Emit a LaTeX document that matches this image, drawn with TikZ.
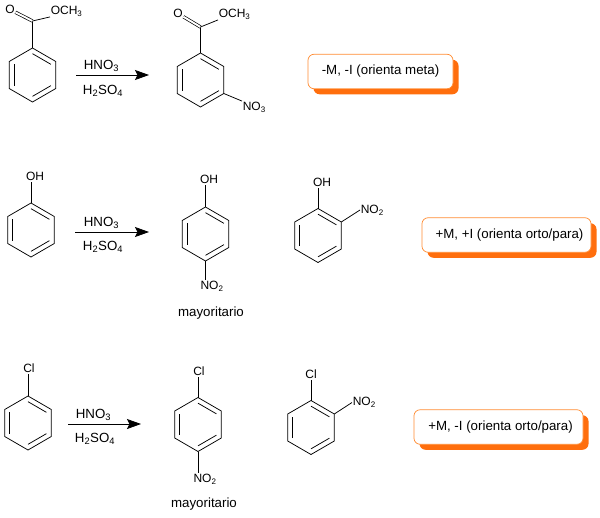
\documentclass[tikz,border=0pt]{standalone}
\usepackage{fontspec}
\setmainfont{Liberation Sans}
\usetikzlibrary{arrows.meta,calc,shadows}
\definecolor{boxedge}{HTML}{FF8C33}
\definecolor{boxshadow}{HTML}{FF6E0D}
\tikzset{
    bond/.style={line width=0.75pt},
    dblbond/.style={line width=0.7pt,double,double distance=1.9pt},
    atom/.style={font=\fontsize{12}{14}\selectfont,inner sep=0.6pt},
    reagent/.style={font=\fontsize{13.3}{15}\selectfont,inner sep=0pt},
    react/.style={line width=0.8pt,-{Stealth[length=14pt,width=10pt,inset=2.5pt]}},
    note/.style={draw=boxedge,line width=0.7pt,fill=white,rounded corners=6pt,inner sep=0pt,
        font=\fontsize{13.3}{15}\selectfont,minimum height=34.5pt,
        drop shadow={shadow xshift=5.5pt,shadow yshift=-5.5pt,fill=boxshadow,opacity=1}}
}
\newcommand{\benzring}[3]{
    \coordinate (#1_c) at (#2,#3);
    \coordinate (#1_a) at (#2,#3-27);
    \coordinate (#1_b) at (#2+23.3,#3-13.5);
    \coordinate (#1_d) at (#2+23.3,#3+13.5);
    \coordinate (#1_e) at (#2,#3+27);
    \coordinate (#1_f) at (#2-23.3,#3+13.5);
    \coordinate (#1_g) at (#2-23.3,#3-13.5);
    \draw[bond] (#1_a) -- (#1_b) -- (#1_d) -- (#1_e) -- (#1_f) -- (#1_g) -- cycle;
    \draw[bond] ($(#1_a)!.21!(#1_c)$) -- ($(#1_b)!.21!(#1_c)$);
    \draw[bond] ($(#1_d)!.21!(#1_c)$) -- ($(#1_e)!.21!(#1_c)$);
    \draw[bond] ($(#1_f)!.21!(#1_c)$) -- ($(#1_g)!.21!(#1_c)$);
}
\begin{document}
\begin{tikzpicture}[x=1pt,y=-1pt]
    \useasboundingbox (0,0) rectangle (600,517);

    % first row
    \benzring{ring_1}{32.5}{75}
    \coordinate (C_1) at (32.5,21);
    \node[atom] (O_1) at (10,9.5) {O};
    \node[atom,anchor=west] (OMe_1) at (50,11) {OCH\textsubscript{3}};
    \draw[bond] (ring_1_a) -- (C_1);
    \draw[dblbond] (C_1) -- (O_1);
    \draw[bond] (C_1) -- (OMe_1.south west);

    \coordinate (start_1) at (76,75);
    \coordinate (end_1) at (149,75);
    \draw[react] (start_1) -- (end_1);
    \node[reagent] (top_1) at (101.5,65.5) {HNO\textsubscript{3}};
    \node[reagent] (low_1) at (103,90.5) {H\textsubscript{2}SO\textsubscript{4}};

    \benzring{ring_2}{200.5}{80}
    \coordinate (C_2) at (200.5,27);
    \node[atom] (O_2) at (178,13.5) {O};
    \node[atom,anchor=west] (OMe_2) at (218,14) {OCH\textsubscript{3}};
    \node[atom,anchor=west] (NO_2) at (242,107) {NO\textsubscript{3}};
    \draw[bond] (ring_2_a) -- (C_2);
    \draw[dblbond] (C_2) -- (O_2);
    \draw[bond] (C_2) -- (OMe_2.south west);
    \draw[bond] (ring_2_d) -- (NO_2.north west);

    \node[note,minimum width=145pt] (note_1) at (380.5,71.5) {-M, -I (orienta meta)};

    % second row
    \benzring{ring_3}{31}{230}
    \node[atom] (OH_3) at (35,176.5) {OH};
    \draw[bond] (ring_3_a) -- (OH_3.south -| ring_3_a);

    \coordinate (start_3) at (75,232);
    \coordinate (end_3) at (149,232);
    \draw[react] (start_3) -- (end_3);
    \node[reagent] (top_3) at (101.5,223) {HNO\textsubscript{3}};
    \node[reagent] (low_3) at (103,247) {H\textsubscript{2}SO\textsubscript{4}};

    \benzring{ring_4}{205.5}{234}
    \node[atom] (OH_4) at (209,179.5) {OH};
    \node[atom] (NO_4) at (212,286) {NO\textsubscript{2}};
    \draw[bond] (ring_4_a) -- (OH_4.south -| ring_4_a);
    \draw[bond] (ring_4_e) -- (NO_4.north -| ring_4_e);
    \node[reagent] (major_4) at (211,313) {mayoritario};

    \benzring{ring_5}{318}{235.5}
    \node[atom] (OH_5) at (322,182.5) {OH};
    \node[atom,anchor=west] (NO_5) at (360,210) {NO\textsubscript{2}};
    \draw[bond] (ring_5_a) -- (OH_5.south -| ring_5_a);
    \draw[bond] (ring_5_b) -- (NO_5.west);

    \node[note,minimum width=169pt] (note_2) at (506.5,235) {\hspace*{6pt}+M, +I (orienta orto/para)};

    % third row
    \benzring{ring_6}{28}{423}
    \node[atom] (Cl_6) at (29,368.5) {Cl};
    \draw[bond] (ring_6_a) -- (Cl_6.south -| ring_6_a);

    \coordinate (start_6) at (68,424);
    \coordinate (end_6) at (141,424);
    \draw[react] (start_6) -- (end_6);
    \node[reagent] (top_6) at (93.5,415) {HNO\textsubscript{3}};
    \node[reagent] (low_6) at (95,439) {H\textsubscript{2}SO\textsubscript{4}};

    \benzring{ring_7}{198}{424.5}
    \node[atom] (Cl_7) at (199,371.5) {Cl};
    \node[atom] (NO_7) at (205,479) {NO\textsubscript{2}};
    \draw[bond] (ring_7_a) -- (Cl_7.south -| ring_7_a);
    \draw[bond] (ring_7_e) -- (NO_7.north -| ring_7_e);
    \node[reagent] (major_7) at (204,504) {mayoritario};

    \benzring{ring_8}{311}{427.5}
    \node[atom] (Cl_8) at (311,374.5) {Cl};
    \node[atom,anchor=west] (NO_8) at (352,402.5) {NO\textsubscript{2}};
    \draw[bond] (ring_8_a) -- (Cl_8.south -| ring_8_a);
    \draw[bond] (ring_8_b) -- (NO_8.west);

    \node[note,minimum width=169pt] (note_3) at (498.5,427) {\hspace*{4pt}+M, -I (orienta orto/para)};
\end{tikzpicture}
\end{document}
